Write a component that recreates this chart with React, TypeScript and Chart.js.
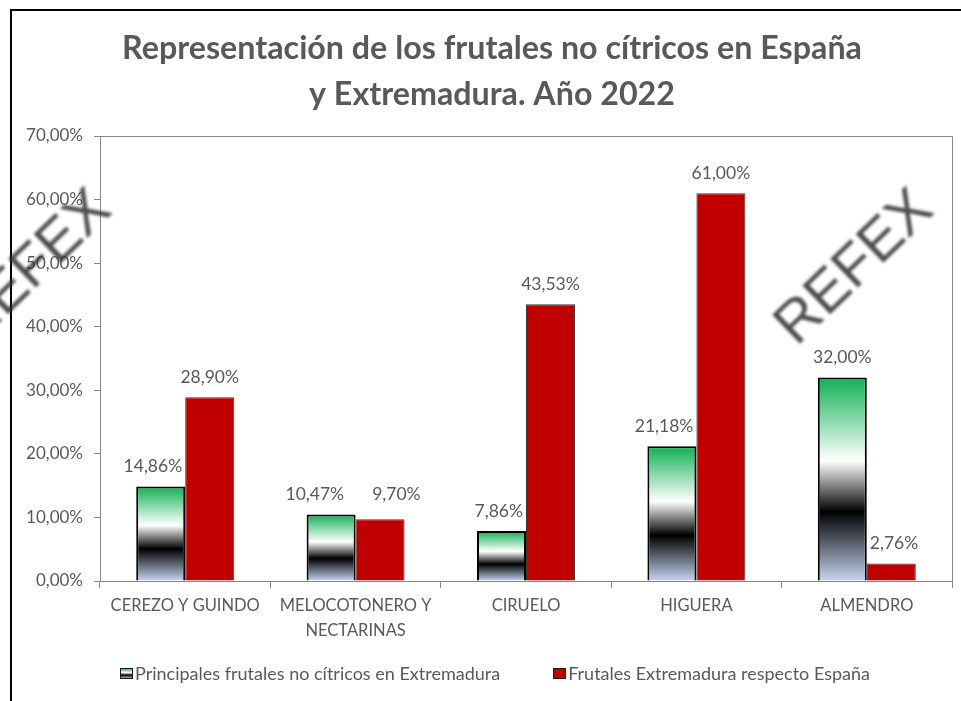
import React, { useEffect, useRef } from "react";
import { Chart, registerables } from "chart.js";

Chart.register(...registerables);

// ---------- DATA ----------
const categories: (string | string[])[] = [
  "CEREZO Y GUINDO",
  ["MELOCOTONERO Y", "NECTARINAS"],
  "CIRUELO",
  "HIGUERA",
  "ALMENDRO",
];
const seriesNames = [
  "Principales frutales no cítricos en Extremadura",
  "Frutales Extremadura respecto España",
];
const extremaduraShare = [14.86, 10.47, 7.86, 21.18, 32.0];
const spainShare = [28.9, 9.7, 43.53, 61.0, 2.76];
const yMin = 0;
const yMax = 70;
const yStep = 10;
const titleLines = [
  "Representación de los frutales no cítricos en España",
  "y Extremadura. Año 2022",
];
const watermarkText = "REFEX";

// ---------- STYLE ----------
const GRAY_TEXT = "#595959";
const AXIS = "#868686";
const RED = "#C00000";
const FONT = "Lato";

const fmt = (v: number) => v.toFixed(2).replace(".", ",") + "%";

function greenGradient(ctx: CanvasRenderingContext2D, top: number, bottom: number) {
  const g = ctx.createLinearGradient(0, top, 0, bottom);
  g.addColorStop(0, "#10b052");
  g.addColorStop(0.41, "#ffffff");
  g.addColorStop(0.66, "#000000");
  g.addColorStop(1, "#c6d5f1");
  return g;
}

const labelsPlugin = {
  id: "valueLabels",
  afterDatasetsDraw(chart: any) {
    const ctx: CanvasRenderingContext2D = chart.ctx;
    const m0 = chart.getDatasetMeta(0);
    const m1 = chart.getDatasetMeta(1);
    ctx.save();
    ctx.font = `17.5px ${FONT}`;
    ctx.fillStyle = GRAY_TEXT;
    ctx.textAlign = "center";
    ctx.textBaseline = "middle";
    const h = 17;
    const offset = 20;
    const margin = 3;
    const minGap = 28;
    for (let i = 0; i < categories.length; i++) {
      const bars = [m0.data[i], m1.data[i]];
      const vals = [extremaduraShare[i], spainShare[i]];
      const items = bars.map((b: any, k: number) => {
        const text = fmt(vals[k]);
        const w = ctx.measureText(text).width;
        return { text, w, cx: b.x, cy: b.y - offset };
      });
      // avoid sibling bar
      for (let k = 0; k < 2; k++) {
        const it = items[k];
        const other: any = bars[1 - k];
        const ow = other.width;
        const oLeft = other.x - ow / 2;
        const oRight = other.x + ow / 2;
        if (it.cy + h / 2 > other.y) {
          if (k === 0 && it.cx + it.w / 2 > oLeft - margin) {
            it.cx = oLeft - margin - it.w / 2;
          }
          if (k === 1 && it.cx - it.w / 2 < oRight + margin) {
            it.cx = oRight + margin + it.w / 2;
          }
        }
      }
      // avoid each other
      const a = items[0];
      const b = items[1];
      if (Math.abs(a.cy - b.cy) < h) {
        const overlap = a.cx + a.w / 2 + minGap - (b.cx - b.w / 2);
        if (overlap > 0) {
          a.cx -= overlap / 2;
          b.cx += overlap / 2;
          const y = Math.min(a.cy, b.cy);
          a.cy = y;
          b.cy = y;
        }
      }
      items.forEach((it) => ctx.fillText(it.text, it.cx, it.cy));
    }
    ctx.restore();
  },
};

const decorPlugin = {
  id: "decor",
  beforeDraw(chart: any) {
    const ctx: CanvasRenderingContext2D = chart.ctx;
    ctx.save();
    ctx.fillStyle = "#ffffff";
    ctx.fillRect(0, 0, chart.width, chart.height);
    ctx.restore();
  },
  afterDraw(chart: any) {
    const ctx: CanvasRenderingContext2D = chart.ctx;
    const area = chart.chartArea;
    ctx.save();
    // plot area box (top & right)
    ctx.strokeStyle = AXIS;
    ctx.lineWidth = 1;
    ctx.beginPath();
    ctx.moveTo(area.left, area.top + 0.5);
    ctx.lineTo(area.right + 0.5, area.top + 0.5);
    ctx.lineTo(area.right + 0.5, area.bottom);
    ctx.stroke();

    // title
    ctx.fillStyle = GRAY_TEXT;
    ctx.textAlign = "center";
    ctx.textBaseline = "alphabetic";
    let size = 29;
    ctx.font = `bold ${size}px ${FONT}`;
    const w0 = ctx.measureText(titleLines[0]).width;
    size = size * (740 / w0);
    ctx.font = `bold ${size}px ${FONT}`;
    ctx.fillText(titleLines[0], 492, 59);
    ctx.fillText(titleLines[1], 492, 105);

    // legend
    ctx.font = `18px ${FONT}`;
    ctx.textAlign = "left";
    const boxW = 12;
    const boxH = 10;
    const gapText = 3;
    const gapItems = 53;
    const tw = seriesNames.map((s) => ctx.measureText(s).width);
    const total = boxW + gapText + tw[0] + gapItems + boxW + gapText + tw[1];
    let x = 495 - total / 2;
    const ly = 673;
    for (let k = 0; k < 2; k++) {
      const bx = Math.round(x) + 0.5;
      const by = ly - boxH / 2 + 0.5;
      if (k === 0) {
        ctx.fillStyle = greenGradient(ctx, by, by + boxH);
      } else {
        ctx.fillStyle = RED;
      }
      ctx.fillRect(bx, by, boxW, boxH);
      ctx.strokeStyle = "#1a1a1a";
      ctx.lineWidth = 1;
      ctx.strokeRect(bx, by, boxW, boxH);
      ctx.fillStyle = GRAY_TEXT;
      ctx.textBaseline = "middle";
      ctx.fillText(seriesNames[k], x + boxW + gapText, ly + 1);
      x += boxW + gapText + tw[k] + gapItems;
    }

    // frame
    ctx.strokeStyle = "#000000";
    ctx.lineWidth = 2;
    ctx.beginPath();
    ctx.moveTo(11, chart.height + 2);
    ctx.lineTo(11, 10);
    ctx.lineTo(chart.width + 2, 10);
    ctx.stroke();

    // watermarks
    const marks = [
      [855, 268],
      [33, 268],
    ];
    ctx.font = `58px "Liberation Sans"`;
    ctx.textAlign = "center";
    ctx.textBaseline = "middle";
    ctx.fillStyle = "rgba(45,45,45,0.85)";
    (ctx as any).filter = "blur(1.4px)";
    marks.forEach(([mx, my]) => {
      ctx.save();
      ctx.translate(mx, my);
      ctx.rotate((-44 * Math.PI) / 180);
      ctx.fillText(watermarkText, 0, 0);
      ctx.restore();
    });
    (ctx as any).filter = "none";
    ctx.restore();
  },
};

export default function App() {
  const ref = useRef<HTMLCanvasElement | null>(null);
  useEffect(() => {
    if (!ref.current) return;
    const chart = new Chart(ref.current, {
      type: "bar",
      data: {
        labels: categories as any,
        datasets: [
          {
            label: seriesNames[0],
            data: extremaduraShare,
            backgroundColor: (c: any) => {
              const ch = c.chart;
              const y = ch.scales && ch.scales.y;
              if (!y || c.type !== "data" || !ch.chartArea) return "#10b052";
              const top = y.getPixelForValue(c.raw);
              const bottom = y.getPixelForValue(0);
              if (!isFinite(top) || !isFinite(bottom) || bottom - top < 1) return "#10b052";
              return greenGradient(ch.ctx, top, bottom);
            },
            borderColor: "#000000",
            borderWidth: 2,
          },
          {
            label: seriesNames[1],
            data: spainShare,
            backgroundColor: RED,
            borderColor: "#3a3a3a",
            borderWidth: 1,
          },
        ],
      },
      options: {
        animation: false,
        responsive: false,
        devicePixelRatio: 1,
        layout: { padding: { top: 136, left: 10, right: 9, bottom: 50 } },
        datasets: { bar: { categoryPercentage: 0.575, barPercentage: 1 } },
        plugins: {
          legend: { display: false },
          title: { display: false },
          tooltip: { enabled: false },
        },
        scales: {
          x: {
            afterFit: (s: any) => {
              s.height = 70;
            },
            grid: {
              display: true,
              drawOnChartArea: false,
              drawTicks: true,
              tickLength: 7,
              color: AXIS,
              offset: true,
            },
            border: { display: true, color: AXIS, width: 1 },
            ticks: {
              color: GRAY_TEXT,
              font: { family: FONT, size: 16.5, lineHeight: 1.515 },
              padding: 5.5,
              maxRotation: 0,
              autoSkip: false,
            },
          },
          y: {
            min: yMin,
            max: yMax,
            afterFit: (s: any) => {
              s.width = 90;
            },
            grid: {
              display: true,
              drawOnChartArea: false,
              drawTicks: true,
              tickLength: 6,
              color: AXIS,
            },
            border: { display: true, color: AXIS, width: 1 },
            ticks: {
              stepSize: yStep,
              color: GRAY_TEXT,
              font: { family: FONT, size: 17 },
              padding: 11,
              callback: (v: any) => fmt(Number(v)),
            },
          },
        },
      },
      plugins: [labelsPlugin, decorPlugin],
    });
    return () => chart.destroy();
  }, []);
  return (
    <div style={{ position: "absolute", left: 0, top: 0, width: 961, height: 701, background: "#fff" }}>
      <canvas ref={ref} width={961} height={701} style={{ display: "block", width: 961, height: 701 }} />
    </div>
  );
}
